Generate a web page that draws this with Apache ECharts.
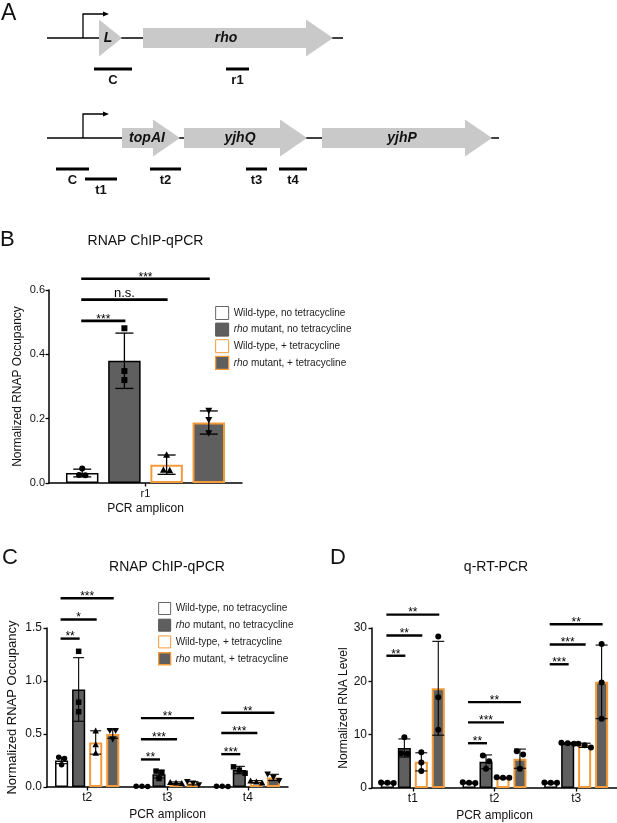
<!DOCTYPE html>
<html><head><meta charset="utf-8">
<script src="https://cdn.jsdelivr.net/npm/echarts@6/dist/echarts.min.js"></script>
<style>html,body{margin:0;padding:0;background:#fff}#c{width:617px;height:823px}</style>
</head><body><div id="c"></div>
<script>
// ================= DATA =================
// Panel A: gene schematic (diagram units)
const geneNames  = ['L', 'rho', 'topAI', 'yjhQ', 'yjhP'];
const geneStart  = [99, 143, 122, 184, 322];
const geneEnd    = [122, 333, 180, 307, 492];
const geneRow    = [0, 0, 1, 1, 1];
const geneLabelX = [108, 226, 147, 240, 402];
const lineStart  = [47, 47];
const lineEnd    = [343, 499];
const promoterX  = [83, 83];
const ampliconNames = ['C', 'r1', 'C', 't1', 't2', 't3', 't4'];
const ampliconStart = [94, 226, 56, 85, 150, 246, 279];
const ampliconEnd   = [132, 249, 89, 117, 181, 267, 307];
const ampliconRow   = [0, 0, 1, 1, 1, 1, 1];
const ampliconLane  = [0, 0, 0, 1, 0, 0, 0];

const seriesNames = ['Wild-type, no tetracycline', 'rho mutant, no tetracycline',
                     'Wild-type, + tetracycline', 'rho mutant, + tetracycline'];

// Panel B: RNAP ChIP-qPCR, amplicon r1
const catB = ['r1'];
const wtNoTetB  = [0.031]; const wtNoTetBSd  = [0.012]; const wtNoTetBPts  = [[0.045, 0.024, 0.025]];
const rhoNoTetB = [0.380]; const rhoNoTetBSd = [0.086]; const rhoNoTetBPts = [[0.481, 0.348, 0.320]];
const wtTetB    = [0.057]; const wtTetBSd    = [0.030]; const wtTetBPts    = [[0.088, 0.041, 0.040]];
const rhoTetB   = [0.188]; const rhoTetBSd   = [0.036]; const rhoTetBPts   = [[0.225, 0.196, 0.155]];
const sigBFrom = [0, 0, 0]; const sigBTo = [1, 2, 3];
const sigBY = [0.504, 0.570, 0.635]; const sigBText = ['***', 'n.s.', '***'];
const yTicksB = [0, 0.2, 0.4, 0.6];

// Panel C: RNAP ChIP-qPCR, amplicons t2,t3,t4
const catC = ['t2', 't3', 't4'];
const wtNoTetC  = [0.25, 0.005, 0.005]; const wtNoTetCSd  = [0.03, 0.002, 0.002];
const wtNoTetCPts  = [[0.28, 0.27, 0.21], [0.006, 0.005, 0.006], [0.006, 0.005, 0.006]];
const rhoNoTetC = [0.92, 0.12, 0.16];   const rhoNoTetCSd = [0.30, 0.035, 0.035];
const rhoNoTetCPts = [[1.28, 0.80, 0.71], [0.15, 0.14, 0.08], [0.19, 0.16, 0.13]];
const wtTetC    = [0.42, 0.04, 0.05];   const wtTetCSd    = [0.11, 0.008, 0.01];
const wtTetCPts    = [[0.53, 0.40, 0.32], [0.045, 0.04, 0.035], [0.06, 0.05, 0.04]];
const rhoTetC   = [0.50, 0.035, 0.09];  const rhoTetCSd   = [0.04, 0.015, 0.03];
const rhoTetCPts   = [[0.53, 0.53, 0.45], [0.05, 0.035, 0.02], [0.12, 0.09, 0.06]];
const sigCCat  = [0, 0, 0, 1, 1, 1, 2, 2, 2];
const sigCTo   = [1, 2, 3, 1, 2, 3, 1, 2, 3];
const sigCY    = [1.40, 1.58, 1.78, 0.26, 0.45, 0.65, 0.31, 0.51, 0.70];
const sigCText = ['**', '*', '***', '**', '***', '**', '***', '***', '**'];
const yTicksC = [0, 0.5, 1.0, 1.5];

// Panel D: q-RT-PCR, amplicons t1,t2,t3
const catD = ['t1', 't2', 't3'];
const wtNoTetD  = [1.0, 1.0, 1.0];   const wtNoTetDSd  = [0.1, 0.1, 0.1];
const wtNoTetDPts  = [[1.05, 1.0, 0.95], [1.1, 1.0, 0.95], [1.05, 1.0, 1.0]];
const rhoNoTetD = [7.5, 4.9, 8.4];   const rhoNoTetDSd = [1.7, 1.3, 0.1];
const rhoNoTetDPts = [[9.5, 6.5, 6.4], [6.1, 5.0, 3.6], [8.5, 8.4, 8.3]];
const wtTetD    = [4.9, 1.9, 8.0];   const wtTetDSd    = [1.7, 0.1, 0.4];
const wtTetDPts    = [[6.7, 4.8, 3.2], [2.0, 1.9, 1.9], [8.3, 7.6, 8.0]];
const rhoTetD   = [18.7, 5.5, 19.9]; const rhoTetDSd   = [8.8, 1.8, 6.9];
const rhoTetDPts   = [[28.4, 17.0, 10.9], [6.9, 6.3, 3.6], [27.0, 19.8, 13.0]];
const sigDCat  = [0, 0, 0, 1, 1, 1, 2, 2, 2];
const sigDTo   = [1, 2, 3, 1, 2, 3, 1, 2, 3];
const sigDY    = [24.8, 28.6, 32.5, 8.4, 12.3, 16.1, 23.2, 26.9, 30.7];
const sigDText = ['**', '**', '**', '**', '***', '**', '***', '***', '**'];
const yTicksD = [0, 10, 20, 30];

// ================= STYLE / LAYOUT =================
const FONT = '"Liberation Sans", Arial, Helvetica, sans-serif';
const ORANGE = '#f39b3a';
const DARK = '#5f5f5f';
const GENE = '#c9c9c9';
const TXT = '#111';
const rowY = [38, 138];

const barStyles = [
  {color: '#fff', borderColor: '#000', borderWidth: 1.5},
  {color: DARK, borderColor: '#000', borderWidth: 1.5},
  {color: '#fff', borderColor: ORANGE, borderWidth: 2},
  {color: DARK, borderColor: ORANGE, borderWidth: 2}
];
const legendStyles = [
  {color: '#fff', borderColor: '#666', borderWidth: 1},
  {color: DARK, borderColor: '#555', borderWidth: 1},
  {color: '#fff', borderColor: ORANGE, borderWidth: 1},
  {color: DARK, borderColor: ORANGE, borderWidth: 1.3}
];

function layoutFn(catGap, gapRatio, n) {
  return function (api, b) {
    const band = api.size([1, 0])[0];
    const group = band * (1 - catGap);
    const w = group / (n + (n - 1) * gapRatio);
    return {w: w, off: -group / 2 + w / 2 + b * w * (1 + gapRatio)};
  };
}

function jitter(ys, size) {
  const idx = ys.map((y, i) => i).sort((a, b) => ys[a] - ys[b]);
  const off = ys.map(() => 0);
  const groups = [[idx[0]]];
  for (let k = 1; k < idx.length; k++) {
    const g = groups[groups.length - 1];
    if (Math.abs(ys[idx[k]] - ys[g[g.length - 1]]) < size) g.push(idx[k]); else groups.push([idx[k]]);
  }
  groups.forEach(g => g.forEach((i, m) => { off[i] = (m - (g.length - 1) / 2) * size * 1.05; }));
  return off;
}

function symbolShape(shape, x, y, s) {
  const h = s / 2;
  if (shape === 0) return {type: 'circle', shape: {cx: x, cy: y, r: h}, style: {fill: '#000'}};
  if (shape === 1) return {type: 'rect', shape: {x: x - h, y: y - h, width: s, height: s}, style: {fill: '#000'}};
  if (shape === 2) return {type: 'polygon', shape: {points: [[x, y - h - 0.5], [x + h + 0.5, y + h], [x - h - 0.5, y + h]]}, style: {fill: '#000'}};
  return {type: 'polygon', shape: {points: [[x - h - 0.5, y - h], [x + h + 0.5, y - h], [x, y + h + 0.5]]}, style: {fill: '#000'}};
}

function makePanel(p) {
  const lay = layoutFn(p.catGap, 0.3, 4);
  const series = [];
  const means = [p.s0, p.s1, p.s2, p.s3];
  const sds = [p.sd0, p.sd1, p.sd2, p.sd3];
  const pts = [p.p0, p.p1, p.p2, p.p3];
  means.forEach((arr, b) => {
    series.push({
      type: 'bar', name: seriesNames[b], xAxisIndex: p.gi, yAxisIndex: p.gi,
      data: arr, barCategoryGap: (p.catGap * 100) + '%', barGap: '30%',
      itemStyle: barStyles[b], z: 2, silent: true
    });
  });
  // error bars
  const errData = [];
  means.forEach((arr, b) => arr.forEach((m, c) => errData.push([c, b, m, sds[b][c]])));
  series.push({
    type: 'custom', xAxisIndex: p.gi, yAxisIndex: p.gi, z: 3, silent: true,
    data: errData, encode: {x: 0, y: 2},
    renderItem: function (params, api) {
      const c = api.value(0), b = api.value(1), m = api.value(2), s = api.value(3);
      const L = lay(api, b);
      const x = api.coord([c, m])[0] + L.off;
      const yh = api.coord([c, m + s])[1], yl = api.coord([c, Math.max(0, m - s)])[1];
      const cw = p.capW / 2;
      const st = {stroke: '#000', lineWidth: p.errW};
      return {type: 'group', children: [
        {type: 'line', shape: {x1: x, y1: yh, x2: x, y2: yl}, style: st},
        {type: 'line', shape: {x1: x - cw, y1: yh, x2: x + cw, y2: yh}, style: st},
        {type: 'line', shape: {x1: x - cw, y1: yl, x2: x + cw, y2: yl}, style: st}
      ]};
    }
  });
  // replicate points
  const ptData = [];
  pts.forEach((arr, b) => arr.forEach((v, c) => ptData.push([c, b, p.shapes[b], v[0], v[1], v[2]])));
  series.push({
    type: 'custom', xAxisIndex: p.gi, yAxisIndex: p.gi, z: 4, silent: true,
    data: ptData, encode: {x: 0, y: 3},
    renderItem: function (params, api) {
      const c = api.value(0), b = api.value(1), sh = api.value(2);
      const L = lay(api, b);
      const vals = [api.value(3), api.value(4), api.value(5)];
      const xc = api.coord([c, 0])[0] + L.off;
      const ys = vals.map(v => api.coord([c, v])[1]);
      const off = jitter(ys, p.sym);
      return {type: 'group', children: ys.map((y, i) => symbolShape(sh, xc + off[i], y, p.sym))};
    }
  });
  // significance bars
  const sigData = p.sigCat.map((c, i) => [c, p.sigFrom[i], p.sigTo[i], p.sigY[i]]);
  series.push({
    type: 'custom', xAxisIndex: p.gi, yAxisIndex: p.gi, z: 5, silent: true, clip: false,
    data: sigData, encode: {x: 0, y: 3},
    renderItem: function (params, api) {
      const c = api.value(0), f = api.value(1), t = api.value(2), yv = api.value(3);
      const A = lay(api, f), B = lay(api, t);
      const base = api.coord([c, yv]);
      const x1 = base[0] + A.off, x2 = base[0] + B.off, y = base[1];
      const txt = p.sigText[params.dataIndex];
      const ns = txt === 'n.s.';
      return {type: 'group', children: [
        {type: 'line', shape: {x1: x1 - 1, y1: y, x2: x2 + 1, y2: y}, style: {stroke: '#000', lineWidth: p.sigW}},
        {type: 'text', style: {text: txt, x: (x1 + x2) / 2, y: y + (ns ? -6 : -1.5),
          font: (ns ? '13px ' : '12px ') + FONT, fill: '#000', textAlign: 'center', textVerticalAlign: 'middle'}}
      ]};
    }
  });
  return series;
}

const seriesB = makePanel({gi: 1, catGap: 0.176, capW: 18, errW: 1.3, sym: 6, sigW: 2.6,
  s0: wtNoTetB, s1: rhoNoTetB, s2: wtTetB, s3: rhoTetB,
  sd0: wtNoTetBSd, sd1: rhoNoTetBSd, sd2: wtTetBSd, sd3: rhoTetBSd,
  p0: wtNoTetBPts, p1: rhoNoTetBPts, p2: wtTetBPts, p3: rhoTetBPts, shapes: [0, 1, 2, 3],
  sigCat: [0, 0, 0], sigFrom: sigBFrom, sigTo: sigBTo, sigY: sigBY, sigText: sigBText});
const seriesC = makePanel({gi: 2, catGap: 0.20, capW: 11, errW: 1.1, sym: 5.5, sigW: 2.4,
  s0: wtNoTetC, s1: rhoNoTetC, s2: wtTetC, s3: rhoTetC,
  sd0: wtNoTetCSd, sd1: rhoNoTetCSd, sd2: wtTetCSd, sd3: rhoTetCSd,
  p0: wtNoTetCPts, p1: rhoNoTetCPts, p2: wtTetCPts, p3: rhoTetCPts, shapes: [0, 1, 2, 3],
  sigCat: sigCCat, sigFrom: sigCCat.map(() => 0), sigTo: sigCTo, sigY: sigCY, sigText: sigCText});
const seriesD = makePanel({gi: 3, catGap: 0.217, capW: 12, errW: 1.1, sym: 6, sigW: 2.4,
  s0: wtNoTetD, s1: rhoNoTetD, s2: wtTetD, s3: rhoTetD,
  sd0: wtNoTetDSd, sd1: rhoNoTetDSd, sd2: wtTetDSd, sd3: rhoTetDSd,
  p0: wtNoTetDPts, p1: rhoNoTetDPts, p2: wtTetDPts, p3: rhoTetDPts, shapes: [0, 0, 0, 0],
  sigCat: sigDCat, sigFrom: sigDCat.map(() => 0), sigTo: sigDTo, sigY: sigDY, sigText: sigDText});

// Panel A series
const seriesA = [
  { // backbone lines + promoters
    type: 'custom', xAxisIndex: 0, yAxisIndex: 0, z: 1, silent: true,
    data: lineStart.map((s, i) => [s, lineEnd[i], i, promoterX[i]]), encode: {x: 0, y: 2},
    renderItem: function (params, api) {
      const r = api.value(2);
      const a = api.coord([api.value(0), rowY[r]]), b = api.coord([api.value(1), rowY[r]]);
      const pr = api.coord([api.value(3), rowY[r]]);
      const top = pr[1] - 24;
      const st = {stroke: '#000', lineWidth: 1.3, fill: null};
      return {type: 'group', children: [
        {type: 'line', shape: {x1: a[0], y1: a[1], x2: b[0], y2: b[1]}, style: st},
        {type: 'polyline', shape: {points: [[pr[0], pr[1]], [pr[0], top], [pr[0] + 21, top]]}, style: st},
        {type: 'polygon', shape: {points: [[pr[0] + 20, top - 2.5], [pr[0] + 26, top], [pr[0] + 20, top + 2.5]]}, style: {fill: '#000'}}
      ]};
    }
  },
  { // genes
    type: 'custom', xAxisIndex: 0, yAxisIndex: 0, z: 2, silent: true,
    data: geneStart.map((s, i) => [s, geneEnd[i], geneRow[i], geneLabelX[i]]), encode: {x: 0, y: 2},
    renderItem: function (params, api) {
      const r = api.value(2);
      const a = api.coord([api.value(0), rowY[r]]), b = api.coord([api.value(1), rowY[r]]);
      const lx = api.coord([api.value(3), rowY[r]])[0];
      const y = a[1], hl = 27, bh = 10, hh = 18.5;
      let pts;
      if (b[0] - a[0] <= hl) pts = [[a[0], y - hh], [b[0], y], [a[0], y + hh]];
      else pts = [[a[0], y - bh], [b[0] - hl, y - bh], [b[0] - hl, y - hh], [b[0], y],
                  [b[0] - hl, y + hh], [b[0] - hl, y + bh], [a[0], y + bh]];
      return {type: 'group', children: [
        {type: 'polygon', shape: {points: pts}, style: {fill: GENE}},
        {type: 'text', style: {text: geneNames[params.dataIndex], x: lx, y: y,
          font: 'italic bold 14px ' + FONT, fill: '#111', textAlign: 'center', textVerticalAlign: 'middle'}}
      ]};
    }
  },
  { // amplicons
    type: 'custom', xAxisIndex: 0, yAxisIndex: 0, z: 3, silent: true,
    data: ampliconStart.map((s, i) => [s, ampliconEnd[i], ampliconRow[i], ampliconLane[i]]), encode: {x: 0, y: 2},
    renderItem: function (params, api) {
      const r = api.value(2), lane = api.value(3);
      const yy = rowY[r] + 31 + lane * 10;
      const a = api.coord([api.value(0), yy]), b = api.coord([api.value(1), yy]);
      return {type: 'group', children: [
        {type: 'line', shape: {x1: a[0], y1: a[1], x2: b[0], y2: b[1]}, style: {stroke: '#000', lineWidth: 3}},
        {type: 'text', style: {text: ampliconNames[params.dataIndex], x: (a[0] + b[0]) / 2, y: a[1] + 11,
          font: 'bold 13px ' + FONT, fill: '#111', textAlign: 'center', textVerticalAlign: 'middle'}}
      ]};
    }
  }
];

function yAx(gi, ticks, fmt, fs, name, nameGap, nameFs, margin) {
  return {type: 'value', gridIndex: gi, min: ticks[0], max: ticks[ticks.length - 1],
    interval: ticks[1] - ticks[0],
    name: name, nameLocation: 'middle', nameGap: nameGap,
    nameTextStyle: {fontSize: nameFs, color: TXT, fontFamily: FONT},
    axisLine: {show: true, lineStyle: {color: '#000', width: 1.5}},
    axisTick: {show: true, length: 3.5, lineStyle: {color: '#000', width: 1.3}},
    axisLabel: {fontSize: fs, color: TXT, fontFamily: FONT, margin: margin, formatter: fmt},
    splitLine: {show: false}};
}
function xAx(gi, cats, fs, nameGap, margin) {
  return {type: 'category', gridIndex: gi, data: cats,
    name: 'PCR amplicon', nameLocation: 'middle', nameGap: nameGap,
    nameTextStyle: {fontSize: 12, color: TXT, fontFamily: FONT},
    axisLine: {show: true, lineStyle: {color: '#000', width: 1.5}},
    axisTick: {show: true, alignWithLabel: true, length: 3.5, lineStyle: {color: '#000', width: 1.3}},
    axisLabel: {fontSize: fs, color: TXT, fontFamily: FONT, margin: margin},
    splitLine: {show: false}};
}

function legendFor(left, top, size, gap) {
  return {left: left, top: top, orient: 'vertical', padding: 0, itemWidth: size, itemHeight: size,
    itemGap: gap, itemTextGap: 4, selectedMode: false, icon: 'rect',
    data: seriesNames.map((n, i) => ({name: n, icon: 'rect', itemStyle: legendStyles[i]})),
    formatter: function (n) { return n.indexOf('rho') === 0 ? '{i|rho}' + n.slice(3) : n; },
    textStyle: {fontSize: 10, color: '#222', fontFamily: FONT,
      rich: {i: {fontStyle: 'italic', fontSize: 10, color: '#222', fontFamily: FONT}}}};
}

function gtext(text, x, y, fs, align) {
  return {type: 'text', x: x, y: y, silent: true,
    style: {text: text, font: fs + 'px ' + FONT, fill: '#111', textAlign: align || 'left', textVerticalAlign: 'top'}};
}

const option = {
  animation: false,
  backgroundColor: '#fff',
  grid: [
    {left: 0, top: 0, width: 617, height: 200},
    {left: 49, top: 290, width: 193, height: 193},
    {left: 47, top: 628, width: 241, height: 159},
    {left: 372, top: 628, width: 249, height: 161}
  ],
  xAxis: [
    {type: 'value', gridIndex: 0, min: 0, max: 617, show: false},
    xAx(1, catB, 11, 19.5, 5),
    xAx(2, catC, 12, 21.5, 4.7),
    xAx(3, catD, 12, 22, 4.5)
  ],
  yAxis: [
    {type: 'value', gridIndex: 0, min: 0, max: 200, inverse: true, show: false},
    yAx(1, yTicksB, v => v.toFixed(1), 11, 'Normalized RNAP Occupancy', 25, 12, 4),
    yAx(2, yTicksC, v => v.toFixed(1), 12, 'Normalized RNAP Occupancy', 28.5, 13, 5),
    yAx(3, yTicksD, v => String(v), 12, 'Normalized RNA Level', 21, 12, 5)
  ],
  legend: [legendFor(215, 306, 13, 2.6), legendFor(158, 602, 12, 3.7)],
  graphic: [
    gtext('A', 1, 2, 23), gtext('B', 0, 229, 22), gtext('C', 2, 547, 22), gtext('D', 330, 547, 22),
    gtext('RNAP ChIP-qPCR', 145.5, 234, 14, 'center'),
    gtext('RNAP ChIP-qPCR', 167, 560, 14, 'center'),
    gtext('q-RT-PCR', 496, 560, 14, 'center')
  ],
  series: [].concat(seriesA, seriesB, seriesC, seriesD)
};

const chart = echarts.init(document.getElementById('c'), null, {renderer: 'canvas'});
chart.setOption(option);
</script></body></html>
